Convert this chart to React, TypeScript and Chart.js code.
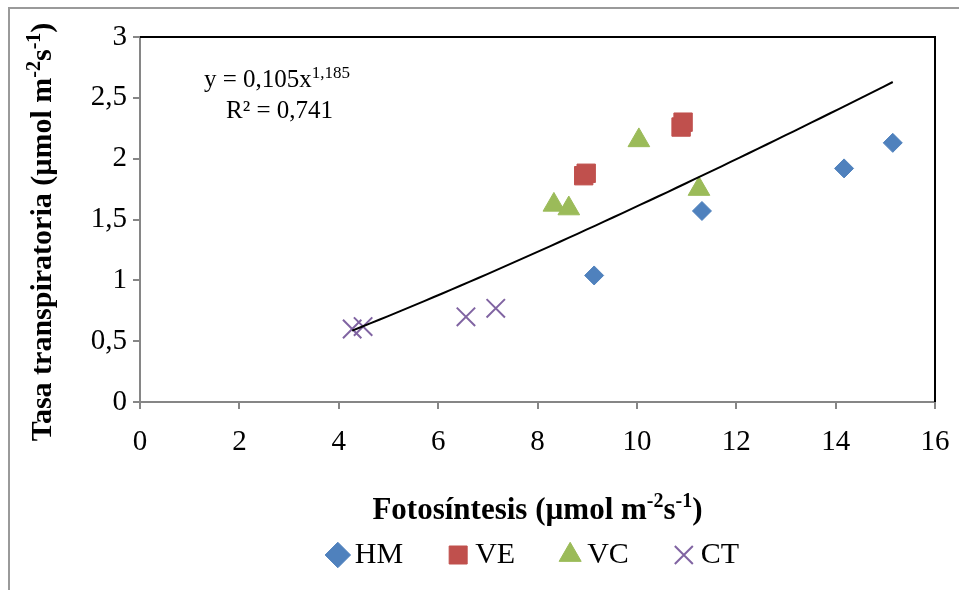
import { useEffect, useRef } from "react";
import { Chart, registerables } from "chart.js";

Chart.register(...registerables);

// Photosynthesis (x) vs transpiration rate (y) for each treatment
const hmX = [9.14, 11.31, 14.17, 15.15];
const hmY = [1.04, 1.57, 1.92, 2.13];
const veX = [8.93, 8.98, 10.89, 10.93];
const veY = [1.86, 1.88, 2.26, 2.3];
const vcX = [8.33, 8.63, 10.04, 11.25];
const vcY = [1.62, 1.59, 2.15, 1.75];
const ctX = [4.27, 4.49, 6.56, 7.16];
const ctY = [0.6, 0.62, 0.7, 0.77];

// Power trend line y = a·x^b over the observed x range
const fitA = 0.105;
const fitB = 1.185;
const fitR2 = 0.741;
const fitRange = [4.27, 15.15];

const xTicks = [0, 2, 4, 6, 8, 10, 12, 14, 16];
const yTicks = [0, 0.5, 1, 1.5, 2, 2.5, 3];

const FAMILY = '"Liberation Serif", "Times New Roman", serif';
const COLORS = { HM: "#4F81BD", VE: "#C0504D", VC: "#9BBB59", CT: "#8064A2" };
const AXIS_GREY = "#868686";

const fmt = (v: number) => String(v).replace(".", ",");

type Seg = { t: string; sup?: boolean };

function drawRich(
  ctx: CanvasRenderingContext2D,
  segs: Seg[],
  x: number,
  y: number,
  size: number,
  bold: boolean,
  align: "left" | "center"
) {
  const w = bold ? "bold " : "";
  const baseFont = `${w}${size}px ${FAMILY}`;
  const supFont = `${w}${Math.round(size * 0.66)}px ${FAMILY}`;
  const widths = segs.map((s) => {
    ctx.font = s.sup ? supFont : baseFont;
    return ctx.measureText(s.t).width;
  });
  const total = widths.reduce((a, b) => a + b, 0);
  let cx = align === "center" ? x - total / 2 : x;
  ctx.textAlign = "left";
  ctx.textBaseline = "alphabetic";
  ctx.fillStyle = "#000";
  segs.forEach((s, i) => {
    ctx.font = s.sup ? supFont : baseFont;
    ctx.fillText(s.t, cx, s.sup ? y - size * 0.38 : y);
    cx += widths[i];
  });
}

const unitSegs: Seg[] = [
  { t: " (µmol m" },
  { t: "-2", sup: true },
  { t: "s" },
  { t: "-1", sup: true },
  { t: ")" },
];

const decorPlugin = {
  id: "decor",
  beforeDraw(chart: any) {
    const { ctx, width, height } = chart;
    ctx.save();
    ctx.fillStyle = "#fff";
    ctx.fillRect(0, 0, width, height);
    // outer frame
    ctx.strokeStyle = "#9a9a9a";
    ctx.lineWidth = 2;
    ctx.beginPath();
    ctx.moveTo(9, height);
    ctx.lineTo(9, 8);
    ctx.lineTo(width, 8);
    ctx.stroke();
    ctx.restore();
  },
  afterLayout(chart: any) {
    // center the legend row under the plot area
    const a = chart.chartArea;
    if (chart.legend) {
      chart.legend.left = a.left;
      chart.legend.right = a.right;
    }
  },
  afterDatasetsDraw(chart: any) {
    const { ctx, chartArea: a } = chart;
    ctx.save();
    // plot area border on top and right
    ctx.strokeStyle = "#000";
    ctx.lineWidth = 2;
    ctx.beginPath();
    ctx.moveTo(a.left, a.top);
    ctx.lineTo(a.right, a.top);
    ctx.lineTo(a.right, a.bottom);
    ctx.stroke();

    // axis titles
    drawRich(ctx, [{ t: "Fotosíntesis" }, ...unitSegs], (a.left + a.right) / 2, 519, 31, true, "center");
    ctx.save();
    ctx.translate(51, 232);
    ctx.rotate(-Math.PI / 2);
    drawRich(ctx, [{ t: "Tasa transpiratoria" }, ...unitSegs], 0, 0, 30, true, "center");
    ctx.restore();

    // trend line equation
    drawRich(
      ctx,
      [{ t: `y = ${fmt(fitA)}x` }, { t: fmt(fitB), sup: true }],
      204,
      87,
      25,
      false,
      "left"
    );
    drawRich(ctx, [{ t: `R² = ${fmt(fitR2)}` }], 226, 118, 25, false, "left");
    ctx.restore();
  },
};

function trendPoints() {
  const pts: { x: number; y: number }[] = [];
  const n = 60;
  for (let i = 0; i <= n; i++) {
    const x = fitRange[0] + ((fitRange[1] - fitRange[0]) * i) / n;
    pts.push({ x, y: fitA * Math.pow(x, fitB) });
  }
  return pts;
}

const toPts = (xs: number[], ys: number[]) => xs.map((x, i) => ({ x, y: ys[i] }));

export default function App() {
  const ref = useRef<HTMLCanvasElement | null>(null);

  useEffect(() => {
    document.body.style.margin = "0";
    const canvas = ref.current;
    if (!canvas) return;

    const tickFont = { family: FAMILY, size: 29 };
    const chart = new Chart(canvas, {
      type: "scatter",
      data: {
        datasets: [
          {
            label: "HM",
            data: toPts(hmX, hmY),
            pointStyle: "rectRot",
            pointRadius: 9.5,
            backgroundColor: COLORS.HM,
            borderColor: COLORS.HM,
            borderWidth: 1,
            order: 1,
          },
          {
            label: "VE",
            data: toPts(veX, veY),
            pointStyle: "rect",
            pointRadius: 13,
            backgroundColor: COLORS.VE,
            borderColor: COLORS.VE,
            borderWidth: 1,
            order: 1,
          },
          {
            label: "VC",
            data: toPts(vcX, vcY),
            pointStyle: "triangle",
            pointRadius: 12.5,
            backgroundColor: COLORS.VC,
            borderColor: COLORS.VC,
            borderWidth: 1,
            order: 1,
          },
          {
            label: "CT",
            data: toPts(ctX, ctY),
            pointStyle: "crossRot",
            pointRadius: 13,
            backgroundColor: COLORS.CT,
            borderColor: COLORS.CT,
            borderWidth: 2,
            order: 1,
          },
          {
            label: "trend",
            type: "line",
            data: trendPoints(),
            showLine: true,
            borderColor: "#000",
            borderWidth: 2,
            pointRadius: 0,
            tension: 0,
            order: 0,
          } as any,
        ],
      },
      options: {
        responsive: false,
        animation: false,
        events: [],
        layout: { padding: { top: 37, right: 24, bottom: 10, left: 0 } },
        plugins: {
          tooltip: { enabled: false },
          title: { display: false },
          legend: {
            display: true,
            position: "bottom",
            labels: {
              usePointStyle: true,
              boxWidth: 4,
              boxHeight: 18,
              padding: 53,
              color: "#000",
              font: { family: FAMILY, size: 30 },
              filter: (item: any) => item.text !== "trend",
            },
          },
        },
        scales: {
          x: {
            type: "linear",
            min: xTicks[0],
            max: xTicks[xTicks.length - 1],
            afterBuildTicks: (s: any) => {
              s.ticks = xTicks.map((v) => ({ value: v }));
            },
            ticks: { font: tickFont, color: "#000", padding: 16, maxRotation: 0 },
            grid: { drawOnChartArea: false, tickLength: 7, color: AXIS_GREY, lineWidth: 2 },
            border: { color: AXIS_GREY, width: 2 },
            afterFit: (s: any) => {
              const lh = s.chart.legend ? s.chart.legend.height : 0;
              s.height = s.chart.height - 10 - lh - 402;
              s.paddingLeft = 0;
              s.paddingRight = 0;
            },
          },
          y: {
            type: "linear",
            min: yTicks[0],
            max: yTicks[yTicks.length - 1],
            afterBuildTicks: (s: any) => {
              s.ticks = yTicks.map((v) => ({ value: v }));
            },
            ticks: {
              font: tickFont,
              color: "#000",
              padding: 6,
              callback: (v: any) => fmt(Number(v)),
            },
            grid: { drawOnChartArea: false, tickLength: 7, color: AXIS_GREY, lineWidth: 2 },
            border: { color: AXIS_GREY, width: 2 },
            afterFit: (s: any) => {
              s.width = 140;
              s.paddingTop = 0;
              s.paddingBottom = 0;
            },
          },
        },
      },
      plugins: [decorPlugin],
    });

    return () => chart.destroy();
  }, []);

  return <canvas ref={ref} width={959} height={590} style={{ display: "block" }} />;
}
